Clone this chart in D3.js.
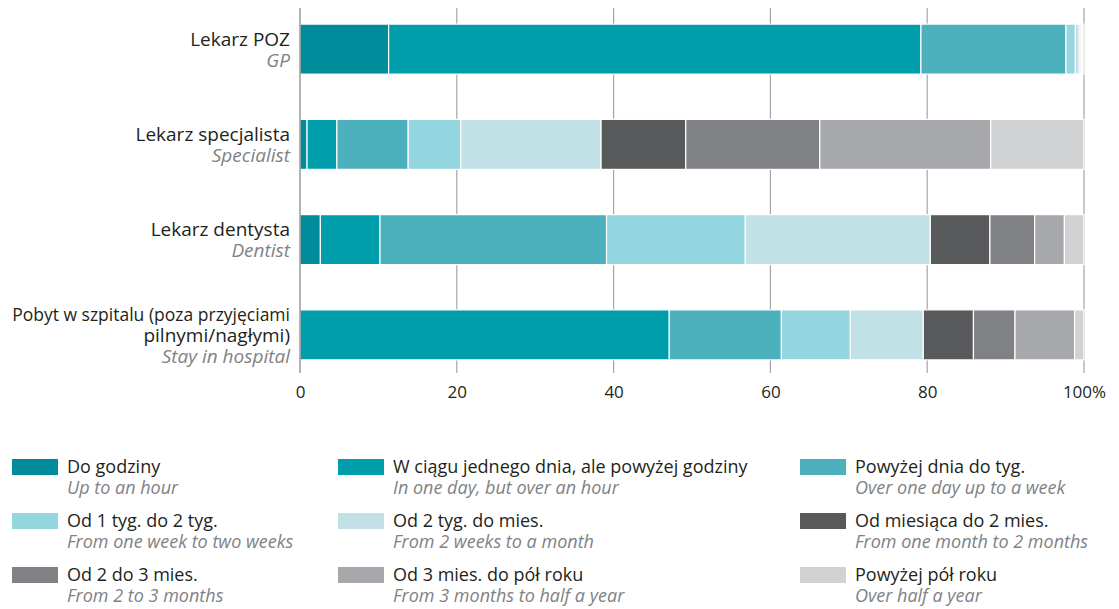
<!DOCTYPE html>
<html><head><meta charset="utf-8">
<script src="https://cdn.jsdelivr.net/npm/d3@7"></script>
<style>
html,body{margin:0;padding:0;background:#fff;}
svg{display:block;font-family:"Open Sans", "Noto Sans", sans-serif;}
</style></head>
<body>
<svg id="chart" width="1119" height="609"></svg>
<script>
const categories = ["Lekarz POZ", "Lekarz specjalista", "Lekarz dentysta", "Pobyt w szpitalu"];
const categoryLabelsPL = [["Lekarz POZ"], ["Lekarz specjalista"], ["Lekarz dentysta"], ["Pobyt w szpitalu (poza przyjęciami", "pilnymi/nagłymi)"]];
const categoryLabelsEN = ["GP", "Specialist", "Dentist", "Stay in hospital"];
const seriesPL = ["Do godziny", "W ciągu jednego dnia, ale powyżej godziny", "Powyżej dnia do tyg.", "Od 1 tyg. do 2 tyg.", "Od 2 tyg. do mies.", "Od miesiąca do 2 mies.", "Od 2 do 3 mies.", "Od 3 mies. do pół roku", "Powyżej pół roku"];
const seriesEN = ["Up to an hour", "In one day, but over an hour", "Over one day up to a week", "From one week to two weeks", "From 2 weeks to a month", "From one month to 2 months", "From 2 to 3 months", "From 3 months  to half a year", "Over half a year"];
const colors = ["#008c9a", "#009dab", "#4db1bd", "#94d6df", "#c2e1e6", "#58595b", "#808184", "#a7a8ab", "#d1d2d4"];
// values per category for each series, in %
const valuesGP         = [11.3, 67.9, 18.5, 1.2, 0.5, 0.2, 0.1, 0.1, 0.2];
const valuesSpecialist = [0.9, 3.8, 9.1, 6.7, 17.9, 10.8, 17.1, 21.8, 11.9];
const valuesDentist    = [2.6, 7.6, 28.9, 17.7, 23.6, 7.6, 5.7, 3.8, 2.5];
const valuesHospital   = [0.0, 47.1, 14.3, 8.8, 9.3, 6.4, 5.3, 7.6, 1.2];
const tickValues = [0, 20, 40, 60, 80, 100];
const tickLabels = ["0", "20", "40", "60", "80", "100%"];

const allValues = [valuesGP, valuesSpecialist, valuesDentist, valuesHospital];
const data = categories.map((c, i) => {
  const o = {cat: c};
  seriesPL.forEach((s, j) => o[s] = allValues[i][j]);
  return o;
});
const stacked = d3.stack().keys(seriesPL)(data);

const svg = d3.select("#chart");
const x = d3.scaleLinear().domain([0, 100]).range([300, 1084]);
const y = d3.scaleBand().domain(categories).range([1.5, 382.5]).paddingInner(0.475).paddingOuter(0.2375);

// gridlines
svg.append("g").selectAll("line").data(tickValues.slice(1)).join("line")
  .attr("x1", d => x(d)).attr("x2", d => x(d))
  .attr("y1", 8).attr("y2", 373)
  .attr("stroke", "#a6a6a6").attr("stroke-width", 1.2);

// bars
svg.append("g").selectAll("g").data(stacked).join("g")
  .attr("fill", (d, i) => colors[i])
  .selectAll("rect").data(d => d).join("rect")
  .attr("x", d => x(d[0]))
  .attr("width", d => Math.max(0, x(d[1]) - x(d[0])))
  .attr("y", d => y(d.data.cat))
  .attr("height", y.bandwidth())
  .attr("stroke", "#fff").attr("stroke-width", 1.2);

// left axis line
svg.append("line").attr("x1", x(0)).attr("x2", x(0)).attr("y1", 8).attr("y2", 373)
  .attr("stroke", "#8a8a8a").attr("stroke-width", 1.3);

// x axis labels
const xAxis = d3.axisBottom(x).tickValues(tickValues).tickFormat((d, i) => tickLabels[i]).tickSize(0);
const gx = svg.append("g").attr("transform", "translate(0,383)").call(xAxis);
gx.select(".domain").remove();
gx.selectAll("text").attr("font-size", 17).attr("fill", "#231f20").attr("font-family", "'Open Sans', 'Noto Sans', sans-serif");

// category labels (each line its own text; long lines shrunk to fit)
const maxLabelW = 278;
categories.forEach((c, i) => {
  const lines = categoryLabelsPL[i];
  const n = lines.length + 1;
  const cy = y(c) + y.bandwidth() / 2;
  const first = cy + 7 - (n - 1) * 10.5;
  const all = lines.map(l => ({t: l, it: false})).concat([{t: categoryLabelsEN[i], it: true}]);
  all.forEach((l, k) => {
    const t = svg.append("text").attr("text-anchor", "end").attr("font-size", 19)
      .attr("x", 290).attr("y", first + k * 21)
      .attr("fill", l.it ? "#808285" : "#231f20")
      .attr("font-style", l.it ? "italic" : "normal").text(l.t);
    const w = t.node().getComputedTextLength();
    if (w > maxLabelW) t.attr("font-size", 19 * maxLabelW / w);
  });
});

// legend
const colX = [12, 338, 800];
const rowY = [459, 513, 567];
seriesPL.forEach((s, i) => {
  const cx = colX[i % 3], ry = rowY[Math.floor(i / 3)];
  const g = svg.append("g").attr("transform", `translate(${cx},${ry})`);
  g.append("rect").attr("width", 46).attr("height", 16).attr("fill", colors[i]);
  g.append("text").attr("x", 55).attr("y", 14).attr("font-size", 18).attr("fill", "#231f20").text(s);
  g.append("text").attr("x", 55).attr("y", 35).attr("font-size", 18).attr("fill", "#808285")
    .attr("font-style", "italic").text(seriesEN[i]);
});
</script>
</body></html>
